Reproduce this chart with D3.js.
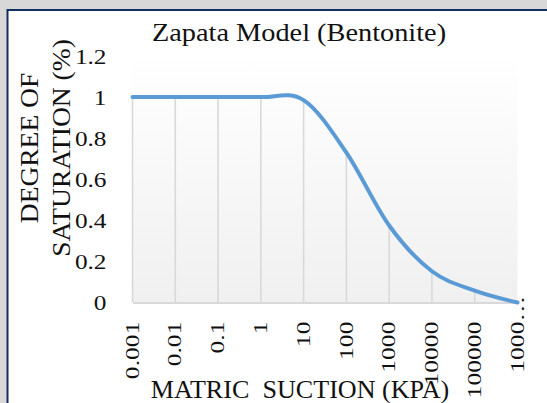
<!DOCTYPE html>
<html>
<head>
<meta charset="utf-8">
<script src="https://cdn.jsdelivr.net/npm/d3@7"></script>
<style>
  html, body { margin: 0; padding: 0; background: #fff; }
  svg { display: block; }
  svg text { font-family: "Liberation Serif", "Times New Roman", serif !important; }
</style>
</head>
<body>
<div id="chart"></div>
<script>
// chart data
const categories = ["0.001", "0.01", "0.1", "1", "10", "100", "1000", "10000", "100000", "1000…"];
const saturation = [1, 1, 1, 1, 0.985, 0.73, 0.375, 0.152, 0.058, 0];
const yTicks = [0, 0.2, 0.4, 0.6, 0.8, 1, 1.2];
const title = "Zapata Model (Bentonite)";
const xTitle = "MATRIC  SUCTION (KPA)";
const yTitle = ["DEGREE OF", "SATURATION (%)"];

const width_svg = 547, height_svg = 403;
const plot = {left: 132.5, right: 517.5, top: 56, bottom: 302.5};

const svg = d3.select("#chart").append("svg")
  .attr("width", width_svg)
  .attr("height", height_svg);

const defs = svg.append("defs");
let grad = defs.append("linearGradient")
  .attr("id", "plotGrad").attr("x1", 0).attr("y1", 0).attr("x2", 0).attr("y2", 1);
grad.append("stop").attr("offset", "0%").attr("stop-color", "#ffffff");
grad.append("stop").attr("offset", "100%").attr("stop-color", "#f0f0f0");

// outer shadow + chart frame
svg.append("rect").attr("width", width_svg).attr("height", height_svg).attr("fill", "#d8d8d8");
svg.append("rect")
  .attr("x", 7.5).attr("y", 10)
  .attr("width", 700).attr("height", 600)
  .attr("fill", "#fff")
  .attr("stroke", "#12305f")
  .attr("stroke-width", 2);

const x = d3.scalePoint().domain(categories).range([plot.left, plot.right]);
const y = d3.scaleLinear().domain([0, 1.2]).range([plot.bottom, plot.top]);

// plot area background
svg.append("rect")
  .attr("x", plot.left).attr("y", y(1.2))
  .attr("width", plot.right - plot.left)
  .attr("height", y(0) - y(1.2))
  .attr("fill", "url(#plotGrad)");

const data = categories.map((c, i) => ({c: c, v: saturation[i]}));

// drop lines
svg.append("g")
  .attr("stroke", "#d9d9d9")
  .attr("stroke-width", 1.6)
  .selectAll("line")
  .data(data)
  .enter().append("line")
    .attr("x1", d => x(d.c)).attr("x2", d => x(d.c))
    .attr("y1", d => y(d.v)).attr("y2", y(0));

// x axis
let xAxis = g => g.attr("transform", `translate(0, ${y(0)})`)
  .call(d3.axisBottom(x).tickSize(0).tickSizeOuter(0))
  .call(g => g.select(".domain").attr("stroke", "#d9d9d9").attr("stroke-width", 2))
  .call(g => g.selectAll(".tick text")
              .attr("y", 0)
              .attr("x", 0)
              .attr("dy", "0.35em")
              .attr("text-anchor", "end")
              .attr("font-size", 19)
              .attr("fill", "#111")
              .attr("transform", "translate(-1, 19) rotate(-90) scale(1.35, 1)"))
  .call(g => g.selectAll(".tick text").filter(d => d.endsWith("…"))
              .each(function(d) {
                // overflow mark sits past the end of the label
                let t = d3.select(this).text(null);
                t.append("tspan").text(d.slice(0, -1));
                t.append("tspan").attr("x", 0).attr("text-anchor", "start").text("…");
              }));

svg.append("g").attr("id", "g_xAxis").call(xAxis);

// y axis
let yAxis = g => g.attr("transform", `translate(${plot.left}, 0)`)
  .call(d3.axisLeft(y).tickValues(yTicks).tickSize(0).tickFormat(d3.format("~g")))
  .call(g => g.select(".domain").remove())
  .call(g => g.selectAll(".tick text")
              .attr("x", 0)
              .attr("dy", "0.32em")
              .attr("font-size", 22)
              .attr("fill", "#111")
              .attr("transform", "translate(-26, 0) scale(1.15, 1)"));

svg.append("g").attr("id", "g_yAxis").call(yAxis);

// series line (smoothed)
let line = d3.line()
  .x(d => x(d.c))
  .y(d => y(d.v))
  .curve(d3.curveCardinal.tension(0));

svg.append("path")
  .datum(data)
  .attr("fill", "none")
  .attr("stroke", "#5b9bd5")
  .attr("stroke-width", 4)
  .attr("stroke-linejoin", "round")
  .attr("stroke-linecap", "round")
  .attr("d", line);

// titles
svg.append("text")
  .attr("transform", "translate(299, 41) scale(1.09, 1)")
  .attr("text-anchor", "middle")
  .attr("font-size", 26)
  .attr("fill", "#111")
  .text(title);

svg.append("text")
  .attr("transform", "translate(300, 398) scale(1.045, 1)")
  .attr("text-anchor", "middle")
  .attr("font-size", 25)
  .attr("fill", "#111")
  .style("white-space", "pre")
  .text(xTitle);

svg.append("g")
  .selectAll("text")
  .data(yTitle)
  .enter().append("text")
    .attr("transform", (d, i) => `translate(${i === 0 ? 38 : 70}, 148) rotate(-90) scale(1.1, 1)`)
    .attr("text-anchor", "middle")
    .attr("font-size", 25)
    .attr("fill", "#111")
    .text(d => d);
</script>
</body>
</html>
